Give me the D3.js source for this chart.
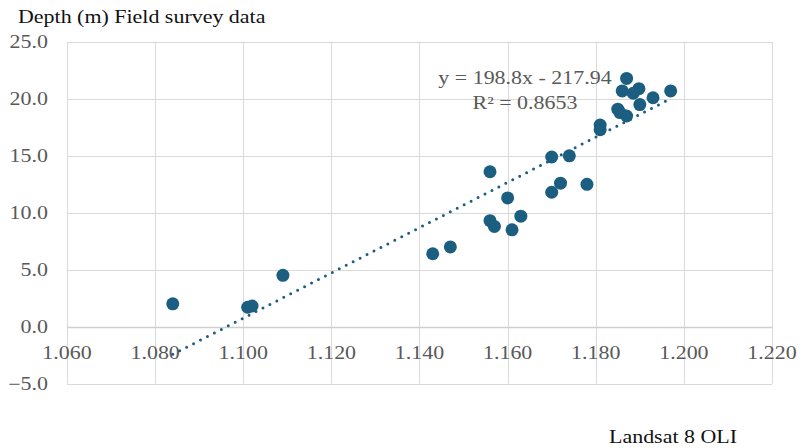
<!DOCTYPE html>
<html lang="en">
<head>
    <meta charset="UTF-8">
    <title>Depth vs Landsat 8 OLI</title>
    <style>
        body { margin: 0; background: #fff; }
        text { font-family: "Liberation Serif", "Times New Roman", serif; }
        .tick-label { font-size: 18px; fill: #595959; }
        .title { font-size: 18px; fill: #111; }
        .grid { stroke: #d9d9d9; stroke-width: 1px; }
    </style>
    <script src="https://d3js.org/d3.v7.min.js"></script>
</head>
<body>
    <div id="chart"></div>
    <script>
        // Landsat 8 OLI band ratio vs field survey depth
        const landsat = [1.084, 1.101, 1.102, 1.109, 1.143, 1.147, 1.156, 1.157, 1.161, 1.163,
                         1.160, 1.156, 1.170, 1.172, 1.178, 1.170, 1.174, 1.181, 1.181, 1.185,
                         1.1855, 1.187, 1.187, 1.186, 1.1898, 1.1885, 1.190, 1.193, 1.197];
        const depth = [2.0, 1.7, 1.8, 4.5, 6.4, 7.0, 9.3, 8.8, 8.5, 9.7,
                       11.3, 13.6, 11.8, 12.6, 12.5, 14.9, 15.0, 17.7, 17.3, 19.1,
                       18.8, 18.5, 21.8, 20.7, 20.9, 20.5, 19.5, 20.1, 20.7];

        const xTicks = [1.06, 1.08, 1.10, 1.12, 1.14, 1.16, 1.18, 1.20, 1.22];
        const yTicks = [-5, 0, 5, 10, 15, 20, 25];

        // linear trendline shown on the chart
        const slope = 198.8;
        const intercept = -217.94;
        const eqLines = ["y = 198.8x - 217.94", "R\u00b2 = 0.8653"];

        const width = 801;
        const height = 448;
        const stretch = 1.22; // text in the picture is a bit wider than normal

        const svg = d3.select("#chart").append("svg")
            .attr("width", width)
            .attr("height", height);

        const x = d3.scaleLinear().domain([1.06, 1.22]).range([67, 772]);
        const y = d3.scaleLinear().domain([-5, 25]).range([383.5, 42]);

        // stretched text helper
        const label = (g, tx, ty, str, anchor, cls) => g.append("text")
            .attr("class", cls)
            .attr("transform", `translate(${tx},${ty}) scale(${stretch},1)`)
            .attr("text-anchor", anchor)
            .text(str);

        // grid
        svg.append("g").selectAll("line")
            .data(xTicks)
            .join("line")
            .attr("class", "grid")
            .attr("x1", d => Math.round(x(d)) + 0.5)
            .attr("x2", d => Math.round(x(d)) + 0.5)
            .attr("y1", y(25))
            .attr("y2", y(-5));

        svg.append("g").selectAll("line")
            .data(yTicks)
            .join("line")
            .attr("class", "grid")
            .attr("x1", x(1.06))
            .attr("x2", x(1.22))
            .attr("y1", d => Math.round(y(d)) + 0.5)
            .attr("y2", d => Math.round(y(d)) + 0.5)
            .style("stroke", d => d === 0 ? "#cfcfcf" : null)
            .style("stroke-width", d => d === 0 ? "1.5px" : null);

        // tick labels
        const fmt = d3.format(".3f");
        const xl = svg.append("g");
        xTicks.forEach(t => label(xl, x(t), y(0) + 32.5, fmt(t), "middle", "tick-label"));
        const yl = svg.append("g");
        yTicks.forEach(t => label(yl, 48, y(t) + 6, d3.format(".1f")(t), "end", "tick-label"));

        // trendline
        const x0 = d3.min(landsat), x1 = d3.max(landsat);
        svg.append("line")
            .attr("x1", x(x0))
            .attr("y1", y(slope * x0 + intercept))
            .attr("x2", x(x1))
            .attr("y2", y(slope * x1 + intercept))
            .attr("stroke", "#1b5e80")
            .attr("stroke-width", 3)
            .attr("stroke-linecap", "round")
            .attr("stroke-dasharray", "0 7.8");

        // points
        svg.append("g").selectAll("circle")
            .data(landsat.map((v, i) => [v, depth[i]]))
            .join("circle")
            .attr("cx", d => x(d[0]))
            .attr("cy", d => y(d[1]))
            .attr("r", 6.5)
            .attr("fill", "#1b5e80");

        // trendline equation
        const eq = svg.append("g");
        eqLines.forEach((s, i) => label(eq, 525, 84 + i * 25, s, "middle", "tick-label"));

        // axis titles
        label(svg, 18, 23, "Depth (m) Field survey data", "start", "title");
        label(svg, 737, 443, "Landsat 8 OLI", "end", "title");
    </script>
</body>
</html>
